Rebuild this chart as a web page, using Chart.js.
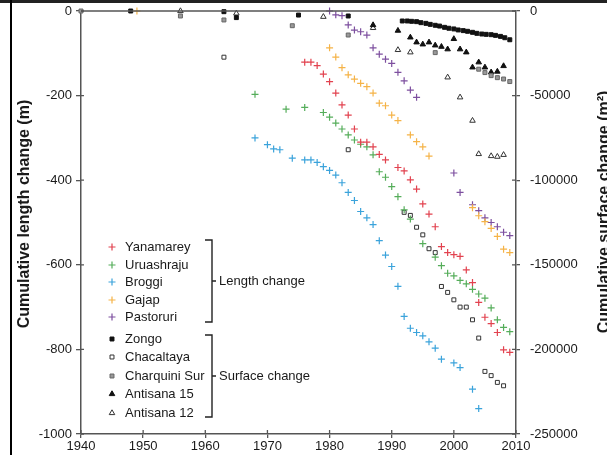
<!DOCTYPE html>
<html>
<head>
<meta charset="utf-8">
<script src="https://cdn.jsdelivr.net/npm/chart.js@4.4.1/dist/chart.umd.min.js"></script>
<style>
  html, body { margin: 0; padding: 0; background: #fff; overflow: hidden; }
  canvas { display: block; }
</style>
</head>
<body>
<canvas id="chart" width="607" height="455"></canvas>
<script>
// Length change (m)
const yanamareyYears = [1976,1977,1978,1979,1980,1981,1982,1983,1984,1985,1986,1987,1988,1989,1991,1992,1993,1994,1995,1996,1997,1998,1999,2000,2001,2002,2003,2004,2005,2006,2007,2008,2009];
const yanamarey = [-121,-121,-129,-149,-167,-194,-222,-246,-279,-310,-310,-321,-339,-352,-370,-378,-399,-421,-456,-480,-510,-557,-571,-576,-580,-612,-642,-689,-724,-739,-760,-801,-807];

const uruashrajuYears = [1968,1973,1976,1979,1980,1981,1982,1983,1984,1985,1986,1987,1988,1989,1990,1991,1992,1993,1995,1997,1998,1999,2000,2001,2002,2003,2004,2005,2006,2007,2008,2009];
const uruashraju = [-197,-232,-228,-240,-251,-265,-279,-293,-305,-315,-321,-340,-380,-393,-415,-439,-470,-492,-550,-582,-602,-620,-626,-637,-645,-658,-669,-679,-702,-730,-748,-758];

const broggiYears = [1968,1970,1971,1972,1974,1976,1977,1978,1979,1980,1981,1982,1983,1984,1985,1986,1987,1988,1989,1990,1991,1992,1993,1994,1995,1996,1997,1998,2000,2001,2003,2004];
const broggi = [-300,-316,-326,-328,-348,-352,-352,-358,-368,-377,-388,-406,-429,-448,-474,-489,-505,-543,-577,-604,-651,-722,-750,-760,-768,-782,-797,-823,-832,-843,-894,-940];

const gajapYears = [1949,1980,1981,1982,1983,1984,1985,1986,1987,1988,1989,1990,1991,1993,1994,1995,1996,2003,2004,2005,2006,2007,2008,2009];
const gajap = [0,-87,-109,-134,-151,-161,-171,-179,-194,-218,-224,-246,-259,-293,-309,-321,-343,-465,-484,-498,-514,-533,-563,-571];

const pastoruriYears = [1980,1981,1982,1983,1984,1985,1986,1987,1988,1989,1990,1991,1992,1993,1994,2000,2001,2003,2004,2005,2006,2007,2008,2009];
const pastoruri = [0,-9,-11,-33,-45,-49,-57,-87,-102,-114,-124,-145,-165,-187,-204,-383,-429,-458,-472,-489,-500,-510,-523,-531];

// Surface change (m²)
const zongoYears = [1948,1963,1965,1975,1983,1991.7,1992.5,1993.2,1994.0,1994.7,1995.5,1996.2,1997.0,1997.7,1998.5,1999.2,2000.0,2000.7,2001.5,2002.2,2003.0,2003.7,2004.5,2005.2,2006.0,2006.7,2007.5,2008.2,2009.0];
const zongo = [0,-400,-3900,-2400,-2950,-5900,-5900,-6100,-6300,-6900,-7300,-7900,-8450,-8900,-9650,-10200,-10600,-11200,-11600,-12000,-12600,-13200,-13600,-13800,-14000,-14400,-15000,-15800,-17000];

const chacaltayaYears = [1963,1983,1992,1993,1994,1995,1996,1997,1998,1999,2000,2001,2002,2003,2004,2005,2006,2007,2008];
const chacaltaya = [-27300,-82000,-119000,-120800,-127800,-132300,-140500,-142800,-162800,-166300,-170700,-175000,-175000,-182500,-193300,-213000,-215500,-219500,-221500];

const charquiniYears = [1940,1956,1963,1974,1983,1997,2004,2005,2006,2007,2008,2009];
const charquini = [0,-2950,-5300,-8700,-14200,-24600,-34400,-36400,-38200,-39400,-40200,-41700];

const antisana15Years = [1987,1991,1993,1994,1995,1996,1997,1998,1999,2000,2001,2002,2003,2004,2005,2006,2007,2008];
const antisana15 = [-8300,-11600,-15600,-18500,-19700,-18500,-20300,-21100,-22600,-16500,-22600,-24400,-33300,-30300,-33300,-36200,-35800,-32500];

const antisana12Years = [1956,1965,1979,1987,1991,1993,1999,2001,2003,2004,2006,2007,2008];
const antisana12 = [0,-1400,-3400,-10000,-23000,-24400,-39200,-51000,-64800,-84500,-85700,-86100,-85000];

const xTicks = [1940,1950,1960,1970,1980,1990,2000,2010];
const lengthTicks = [0,-200,-400,-600,-800,-1000];
const surfaceTicks = [0,-50000,-100000,-150000,-200000,-250000];

const FONT = '"Liberation Sans", Arial, Helvetica, sans-serif';
const TXT = '#1a1a1a';
const AXIS = '#555';

const pts = (xs, ys) => xs.map((x, i) => ({ x: x, y: ys[i] }));

function cross(label, xs, ys, color) {
  return { label, data: pts(xs, ys), yAxisID: 'y', pointStyle: 'cross', pointRadius: 3.5,
    borderColor: color, backgroundColor: color, borderWidth: 1.2, clip: false };
}
function mark(label, xs, ys, style, fill, stroke, r) {
  return { label, data: pts(xs, ys), yAxisID: 'y1', pointStyle: style, pointRadius: r,
    borderColor: stroke, backgroundColor: fill, borderWidth: 1, clip: false };
}

const datasets = [
  cross('Yanamarey', yanamareyYears, yanamarey, '#e2424f'),
  cross('Uruashraju', uruashrajuYears, uruashraju, '#55ad5a'),
  cross('Broggi', broggiYears, broggi, '#3ba3db'),
  cross('Gajap', gajapYears, gajap, '#f5b347'),
  cross('Pastoruri', pastoruriYears, pastoruri, '#7d4f9f'),
  mark('Zongo', zongoYears, zongo, 'rect', '#111', '#111', 2.8),
  mark('Chacaltaya', chacaltayaYears, chacaltaya, 'rect', '#fff', '#333', 2.8),
  mark('Charquini Sur', charquiniYears, charquini, 'rect', '#999', '#666', 2.8),
  mark('Antisana 15', antisana15Years, antisana15, 'triangle', '#111', '#111', 3.2),
  mark('Antisana 12', antisana12Years, antisana12, 'triangle', '#fff', '#333', 3.2)
];

// legend rows, brackets, titles, inner tick marks and the picture's border
const decor = {
  id: 'decor',
  beforeDraw(chart) {
    const ctx = chart.ctx;
    ctx.save();
    ctx.fillStyle = '#fff';
    ctx.fillRect(0, 0, chart.width, chart.height);
    ctx.restore();
  },
  afterDraw(chart) {
    const { ctx, chartArea: a, scales } = chart;
    ctx.save();
    ctx.strokeStyle = AXIS;
    ctx.lineWidth = 1.5;
    ctx.beginPath();
    ctx.moveTo(a.left, a.top);
    ctx.lineTo(a.right, a.top);
    ctx.stroke();

    // ticks crossing into the plot
    ctx.lineWidth = 1.3;
    ctx.beginPath();
    scales.x.ticks.forEach(t => {
      const px = scales.x.getPixelForValue(t.value);
      ctx.moveTo(px, a.bottom); ctx.lineTo(px, a.bottom - 4);
    });
    scales.y.ticks.forEach(t => {
      const py = scales.y.getPixelForValue(t.value);
      ctx.moveTo(a.left, py); ctx.lineTo(a.left + 3, py);
    });
    scales.y1.ticks.forEach(t => {
      const py = scales.y1.getPixelForValue(t.value);
      ctx.moveTo(a.right, py); ctx.lineTo(a.right - 4, py);
    });
    ctx.stroke();

    // legend
    const rows = [247, 265, 282, 300, 317, 339, 357, 376, 394, 413];
    ctx.font = '13px ' + FONT;
    ctx.textBaseline = 'middle';
    ctx.textAlign = 'left';
    chart.data.datasets.forEach((ds, i) => {
      const y = rows[i];
      ctx.save();
      ctx.fillStyle = ds.backgroundColor;
      ctx.strokeStyle = ds.borderColor;
      ctx.lineWidth = ds.borderWidth;
      if (Chart.helpers && Chart.helpers.drawPoint) {
        Chart.helpers.drawPoint(ctx, { pointStyle: ds.pointStyle, radius: ds.pointRadius, rotation: 0, borderWidth: ds.borderWidth }, 112, y);
      }
      ctx.restore();
      ctx.fillStyle = TXT;
      ctx.fillText(ds.label, 125, y + 0.5);
    });

    // brackets
    ctx.strokeStyle = '#222';
    ctx.lineWidth = 1.4;
    [[240, 322, 281, 'Length change'], [335, 417, 376, 'Surface change']].forEach(b => {
      ctx.beginPath();
      ctx.moveTo(205, b[0]); ctx.lineTo(212, b[0]); ctx.lineTo(212, b[1]); ctx.lineTo(205, b[1]);
      ctx.moveTo(212, b[2]); ctx.lineTo(216, b[2]);
      ctx.stroke();
      ctx.fillText(b[3], 219, b[2] + 0.5);
    });

    // axis titles
    ctx.font = 'bold 16px ' + FONT;
    ctx.textAlign = 'center';
    ctx.textBaseline = 'alphabetic';
    ctx.save();
    ctx.translate(28.5, 214);
    ctx.rotate(-Math.PI / 2);
    ctx.fillText('Cumulative length change (m)', 0, 0);
    ctx.restore();
    ctx.save();
    ctx.translate(609, 212);
    ctx.rotate(-Math.PI / 2);
    ctx.fillText('Cumulative surface change (m²)', 0, 0);
    ctx.restore();

    // border of the picture
    ctx.fillStyle = '#222';
    ctx.fillRect(0, 0, chart.width, 3);
    ctx.fillStyle = '#000';
    ctx.fillRect(10, 0, 2, chart.height);
    ctx.restore();
  }
};

const tickFont = { family: FONT, size: 13 };
const noPad = s => { s.paddingTop = 0; s.paddingBottom = 0; };

new Chart(document.getElementById('chart'), {
  type: 'scatter',
  data: { datasets },
  options: {
    responsive: false,
    animation: false,
    layout: { padding: { top: 11, left: 0, right: 0, bottom: 0 } },
    plugins: { legend: { display: false }, tooltip: { enabled: false } },
    scales: {
      x: {
        type: 'linear', min: 1940, max: 2010,
        afterFit: s => { s.height = 21; s.paddingLeft = 0; s.paddingRight = 0; },
        afterBuildTicks: s => { s.ticks = xTicks.map(v => ({ value: v })); },
        ticks: { callback: v => String(v), font: tickFont, color: TXT, padding: 1, maxRotation: 0, autoSkip: false },
        grid: { display: true, drawOnChartArea: false, tickLength: 4, color: AXIS, lineWidth: 1.3 },
        border: { display: true, color: AXIS, width: 1.5 }
      },
      y: {
        type: 'linear', position: 'left', min: -1000, max: 0,
        afterFit: s => { s.width = 81; noPad(s); },
        afterBuildTicks: s => { s.ticks = lengthTicks.map(v => ({ value: v })); },
        ticks: { callback: v => String(v), font: tickFont, color: TXT, padding: 4 },
        grid: { display: true, drawOnChartArea: false, tickLength: 5, color: AXIS, lineWidth: 1.3 },
        border: { display: true, color: AXIS, width: 1.5 }
      },
      y1: {
        type: 'linear', position: 'right', min: -250000, max: 0,
        afterFit: s => { s.width = 91; noPad(s); },
        afterBuildTicks: s => { s.ticks = surfaceTicks.map(v => ({ value: v })); },
        ticks: { callback: v => String(v), font: tickFont, color: TXT, padding: 10 },
        grid: { display: true, drawOnChartArea: false, tickLength: 4, color: AXIS, lineWidth: 1.3 },
        border: { display: true, color: AXIS, width: 1.5 }
      }
    }
  },
  plugins: [decor]
});
</script>
</body>
</html>
